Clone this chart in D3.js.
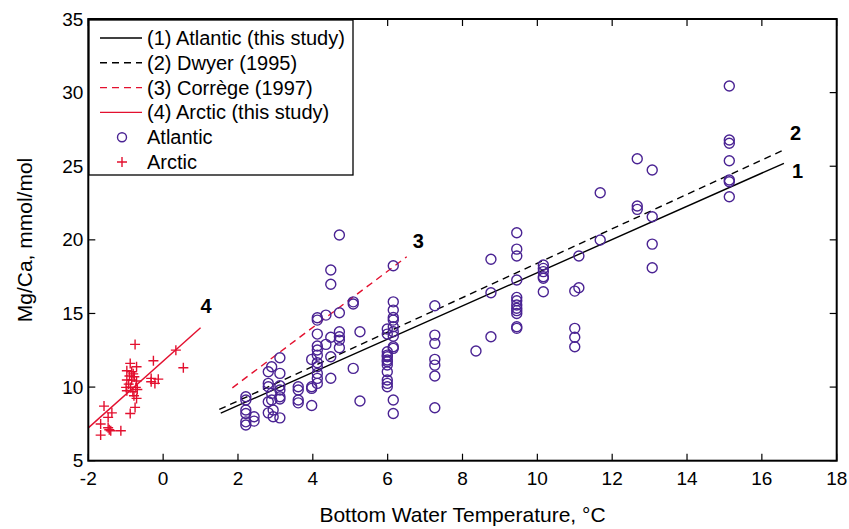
<!DOCTYPE html>
<html><head><meta charset="utf-8">
<script src="https://cdn.jsdelivr.net/npm/d3@7"></script>
<style>body{margin:0;background:#fff}svg{display:block}text{font-family:"Liberation Sans",Arial,Helvetica,sans-serif}</style>
</head><body><div id="chart"></div>
<script>
const xTicks = [-2,0,2,4,6,8,10,12,14,16,18];
const yTicks = [5,10,15,20,25,30,35];

// Atlantic samples: temperature (°C) and Mg/Ca (mmol/mol)
const atlanticTemp = [
 2.21,2.21,2.21,2.21,2.21,2.21,2.43,2.43,
 2.81,2.81,2.81,2.81,2.81,2.90,2.90,2.90,2.94,2.94,3.12,3.12,3.12,3.12,3.12,3.12,3.12,
 3.61,3.61,3.61,3.61,3.97,3.97,3.97,3.97,
 4.12,4.12,4.12,4.12,4.12,4.12,4.12,4.12,4.12,4.12,4.12,
 4.35,4.35,4.48,4.48,4.48,4.48,4.48,4.71,4.71,4.71,4.71,4.71,4.71,
 5.08,5.08,5.08,5.26,5.26,
 5.99,5.99,5.99,5.99,5.99,5.99,5.99,5.99,5.99,5.99,5.99,5.99,
 6.15,6.15,6.15,6.15,6.15,6.15,6.15,6.15,6.15,6.15,6.15,6.15,
 7.26,7.26,7.26,7.26,7.26,7.26,7.26,
 8.36,8.76,8.76,8.76,
 9.45,9.45,9.45,9.45,9.45,9.45,9.45,9.45,9.45,9.45,9.45,9.45,
 10.16,10.16,10.16,10.16,10.16,10.16,
 11.0,11.0,11.0,11.0,11.11,11.11,
 11.68,11.68,12.67,12.67,12.67,13.07,13.07,13.07,13.07,
 15.13,15.13,15.13,15.13,15.13,15.13,15.13];
const atlanticMgCa = [
 9.34,9.12,8.44,8.21,7.64,7.42,7.98,7.69,
 11.04,10.25,10.02,9.0,8.25,11.38,9.57,9.12,8.44,7.98,11.99,10.93,10.09,9.8,9.34,9.19,7.91,
 10.02,9.8,9.12,8.93,11.88,10.02,9.91,8.75,
 14.71,14.55,13.6,12.79,12.52,12.17,11.65,11.38,10.93,10.59,10.25,
 14.89,12.9,17.95,16.98,13.38,12.06,10.6,20.33,15.05,13.76,13.42,13.19,12.67,
 15.79,15.64,11.27,13.76,9.05,
 13.94,13.6,12.4,12.17,12.06,11.84,11.72,11.5,11.04,10.48,10.25,10.02,
 18.24,15.79,15.23,14.73,14.55,14.1,13.76,13.46,12.74,12.63,9.12,8.21,
 15.52,13.53,12.97,11.88,11.49,10.75,8.6,
 12.45,18.68,16.41,13.42,
 20.48,19.37,18.9,17.27,16.09,15.86,15.57,15.35,15.19,15.0,14.1,13.99,
 18.29,18.06,17.84,17.5,17.39,16.47,
 16.52,13.99,13.38,12.74,18.9,16.75,
 23.2,19.99,25.51,22.3,22.07,24.74,21.57,19.71,18.1,
 30.45,26.78,26.56,25.37,24.06,23.95,22.93];

// Arctic samples
const arcticTemp = [-0.75,0.34,0.54,-0.26,-0.88,-0.71,-0.97,-0.84,-0.9,-0.77,-0.97,-0.84,-0.71,
 -0.99,-0.87,-0.73,-0.97,-0.81,-0.69,-0.78,-0.71,-0.75,-0.88,
 -0.32,-0.32,-0.22,-0.13,-1.58,-1.37,-1.47,-1.67,-1.47,-1.40,-1.13,-1.67,-1.44,-0.92,-0.8];
const arcticMgCa = [12.9,12.51,11.31,11.79,11.61,11.38,11.11,11.04,10.75,10.7,10.48,10.48,10.41,
 9.98,9.98,9.98,9.75,9.68,9.84,9.41,9.23,8.62,8.21,
 10.59,10.36,10.25,10.54,8.71,8.25,7.94,7.49,7.24,7.03,7.03,6.74,7.1,10.2,10.9];

// Calibration lines: [temperature, Mg/Ca] endpoints
const line1Atlantic = [[1.54,8.23],[16.59,25.2]];
const line2Dwyer = [[1.50,8.48],[16.62,26.15]];
const line3Correge = [[1.85,9.95],[6.51,18.85]];
const line4Arctic = [[-2.0,7.23],[1.0,14.03]];
const lineLabels = ["1","2","3","4"];
const legendLabels = ["(1) Atlantic (this study)","(2) Dwyer (1995)","(3) Corrège (1997)","(4) Arctic (this study)","Atlantic","Arctic"];

const W=849,H=529;
const m={l:88.3,r:W-836.7,t:19,b:H-460.7};
const purple="#4a2393", red="#e3102f";
const svg=d3.select("#chart").append("svg").attr("width",W).attr("height",H);
const x=d3.scaleLinear().domain([-2,18]).range([m.l,W-m.r]);
const y=d3.scaleLinear().domain([5,35]).range([H-m.b,m.t]);

// ticks (inside, all four sides)
const tl=7;
const g=svg.append("g");
xTicks.forEach(t=>{
  g.append("line").attr("x1",x(t)).attr("x2",x(t)).attr("y1",y(5)).attr("y2",y(5)-tl).attr("stroke","#000").attr("stroke-width",1.2);
  g.append("line").attr("x1",x(t)).attr("x2",x(t)).attr("y1",y(35)).attr("y2",y(35)+tl).attr("stroke","#000").attr("stroke-width",1.2);
  g.append("text").attr("x",x(t)).attr("y",y(5)+24).attr("text-anchor","middle").attr("font-size",19).text(t);
});
yTicks.forEach(t=>{
  g.append("line").attr("x1",x(-2)).attr("x2",x(-2)+tl).attr("y1",y(t)).attr("y2",y(t)).attr("stroke","#000").attr("stroke-width",1.2);
  g.append("line").attr("x1",x(18)).attr("x2",x(18)-tl).attr("y1",y(t)).attr("y2",y(t)).attr("stroke","#000").attr("stroke-width",1.2);
  g.append("text").attr("x",x(-2)-5).attr("y",y(t)+6.5).attr("text-anchor","end").attr("font-size",19).text(t);
});

const line=d3.line().x(d=>x(d[0])).y(d=>y(d[1]));
svg.append("path").attr("d",line(line1Atlantic)).attr("fill","none").attr("stroke","#000").attr("stroke-width",1.4);
svg.append("path").attr("d",line(line2Dwyer)).attr("fill","none").attr("stroke","#000").attr("stroke-width",1.4).attr("stroke-dasharray","7,5");
svg.append("path").attr("d",line(line3Correge)).attr("fill","none").attr("stroke",red).attr("stroke-width",1.4).attr("stroke-dasharray","7,5");
svg.append("path").attr("d",line(line4Arctic)).attr("fill","none").attr("stroke",red).attr("stroke-width",1.4);

// Atlantic circles
svg.append("g").selectAll("circle").data(atlanticTemp).join("circle")
  .attr("cx",d=>x(d)).attr("cy",(d,i)=>y(atlanticMgCa[i])).attr("r",5)
  .attr("fill","none").attr("stroke",purple).attr("stroke-width",1.4);
// Arctic pluses
svg.append("g").selectAll("path").data(arcticTemp).join("path")
  .attr("transform",(d,i)=>`translate(${x(d)},${y(arcticMgCa[i])})`)
  .attr("d","M-5,0H5M0,-5V5").attr("stroke",red).attr("stroke-width",1.4).attr("fill","none");

// line labels
const labelPos=[[line1Atlantic[1],8,8],[line2Dwyer[1],5,-16],[line3Correge[1],6,-16],[line4Arctic[1],0,-22]];
labelPos.forEach((p,i)=>{
  svg.append("text").attr("x",x(p[0][0])+p[1]).attr("y",y(p[0][1])+p[2]+7).attr("font-size",20).attr("font-weight","bold").text(lineLabels[i]);
});

// frame
svg.append("rect").attr("x",x(-2)).attr("y",y(35)).attr("width",x(18)-x(-2)).attr("height",y(5)-y(35))
  .attr("fill","none").attr("stroke","#000").attr("stroke-width",2);

// legend
const lg=svg.append("g");
lg.append("rect").attr("x",89).attr("y",20).attr("width",264).attr("height",155).attr("fill","#fff").attr("stroke","#000").attr("stroke-width",1.3);
const rowY=i=>38+i*24.8;
const styles=[{c:"#000",d:null},{c:"#000",d:"7,5"},{c:red,d:"7,5"},{c:red,d:null}];
legendLabels.forEach((lab,i)=>{
  const yy=rowY(i);
  if(i<4){
    lg.append("line").attr("x1",100).attr("x2",142).attr("y1",yy).attr("y2",yy).attr("stroke",styles[i].c).attr("stroke-width",1.4).attr("stroke-dasharray",styles[i].d);
  } else if(i===4){
    lg.append("circle").attr("cx",122).attr("cy",yy).attr("r",4.5).attr("fill","none").attr("stroke",purple).attr("stroke-width",1.4);
  } else {
    lg.append("path").attr("transform",`translate(122,${yy})`).attr("d","M-5,0H5M0,-5V5").attr("stroke",red).attr("stroke-width",1.4);
  }
  lg.append("text").attr("x",147).attr("y",yy+7).attr("font-size",20).text(lab);
});

// axis titles
svg.append("text").attr("x",(x(-2)+x(18))/2).attr("y",522).attr("text-anchor","middle").attr("font-size",21).text("Bottom Water Temperature, °C");
svg.append("text").attr("transform","translate(32,240) rotate(-90)").attr("text-anchor","middle").attr("font-size",21).text("Mg/Ca, mmol/mol");
</script></body></html>
